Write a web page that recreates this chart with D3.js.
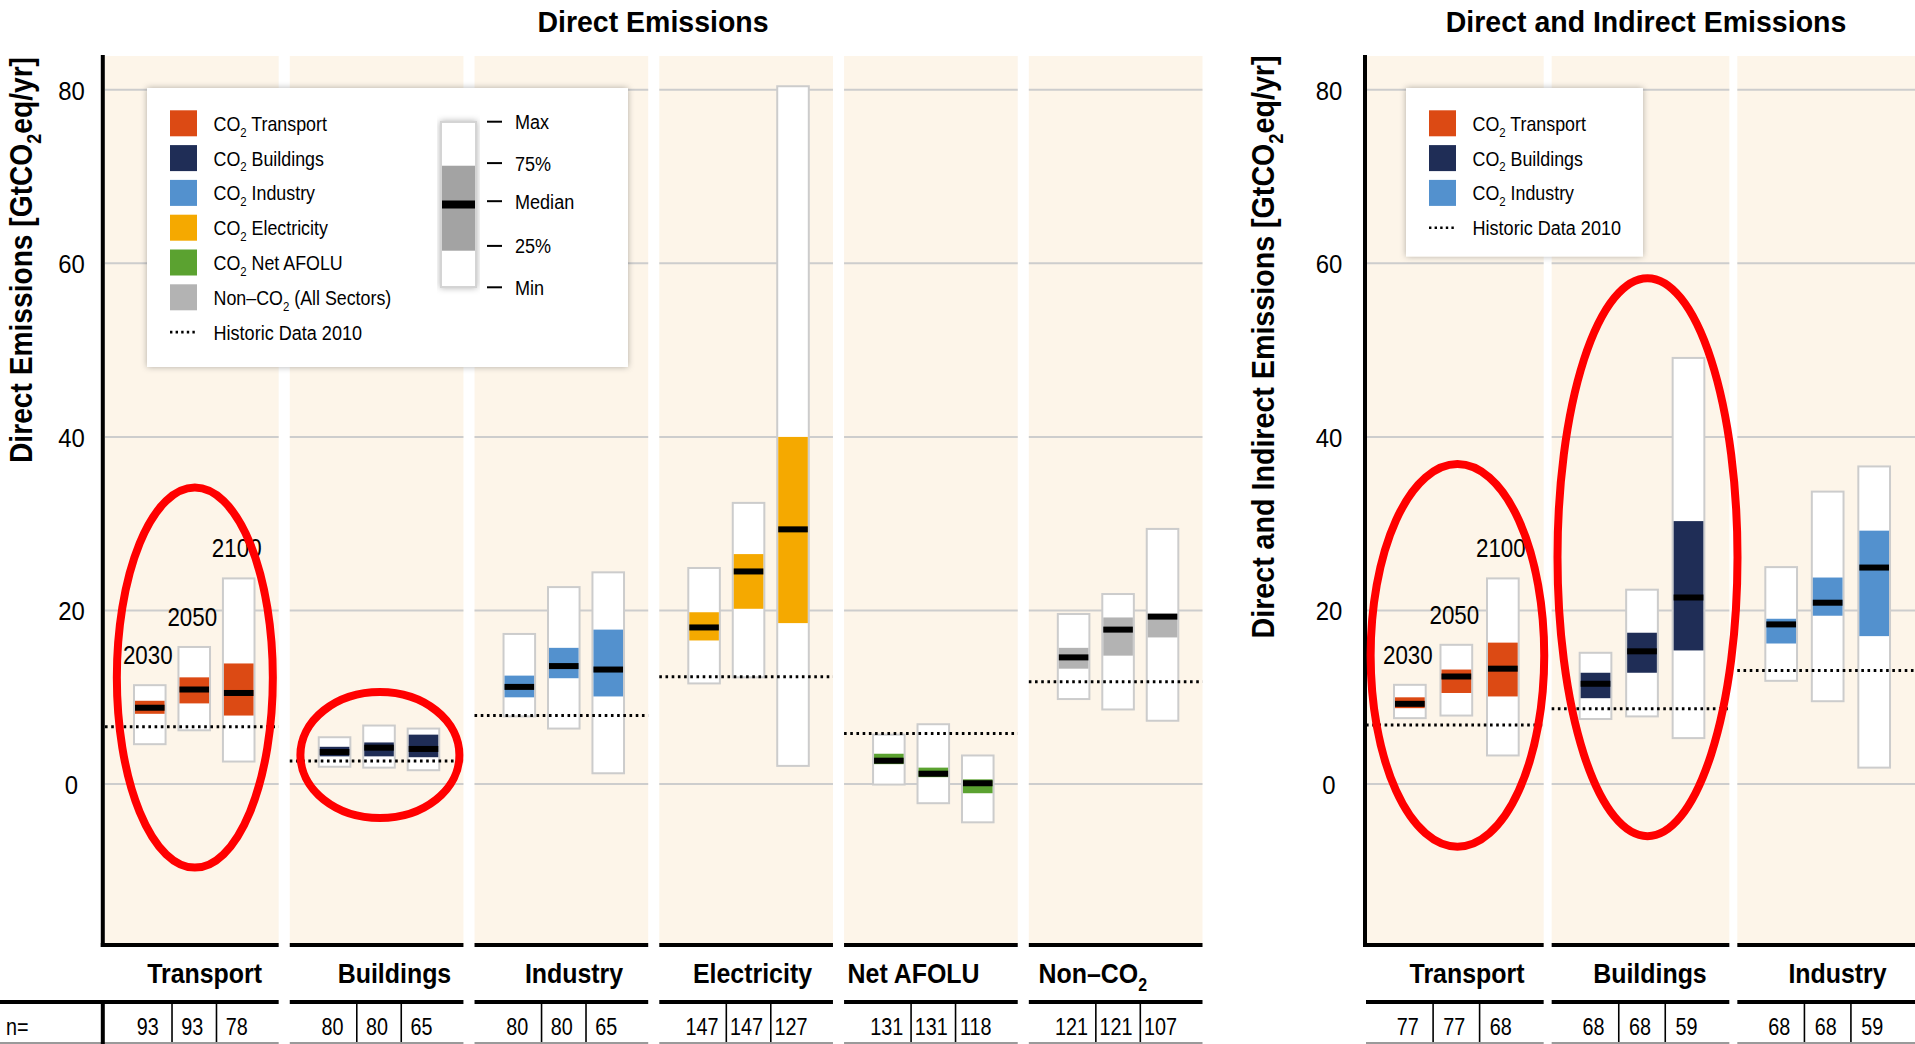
<!DOCTYPE html>
<html>
<head>
<meta charset="utf-8">
<script src="https://cdn.jsdelivr.net/npm/d3@7"></script>
<style>
  html, body { margin: 0; padding: 0; background: #ffffff; }
  svg { display: block; }
</style>
</head>
<body>
<svg id="chart" width="1915" height="1044"></svg>
<script>
// ---------------- DATA ----------------
const years = ["2030", "2050", "2100"];
const yTicks = [0, 20, 40, 60, 80];

// Direct emissions (GtCO2eq/yr)
const directCategories = ["Transport", "Buildings", "Industry", "Electricity", "Net AFOLU", "Non–CO2"];
const directN = [[93, 93, 78], [80, 80, 65], [80, 80, 65], [147, 147, 127], [131, 131, 118], [121, 121, 107]];
const directMin    = [[4.6, 6.2, 2.6], [2.0, 1.9, 1.6], [7.8, 6.4, 1.25], [11.6, 12.3, 2.1], [-0.05, -2.2, -4.4], [9.8, 8.6, 7.3]];
const directQ25    = [[8.1, 9.3, 7.9], [3.2, 3.2, 3.1], [10.0, 12.2, 10.1], [16.55, 20.2, 18.55], [2.3, 0.8, -1.05], [13.3, 14.8, 16.9]];
const directMedian = [[8.8, 10.9, 10.5], [3.7, 4.2, 4.05], [11.2, 13.6, 13.2], [18.05, 24.5, 29.35], [2.7, 1.2, 0.1], [14.6, 17.8, 19.3]];
const directQ75    = [[9.6, 12.3, 13.9], [4.3, 4.8, 5.7], [12.5, 15.7, 17.8], [19.8, 26.5, 40.0], [3.5, 1.9, 0.55], [15.7, 19.2, 19.6]];
const directMax    = [[11.4, 15.8, 23.7], [5.4, 6.75, 6.4], [17.3, 22.7, 24.4], [24.9, 32.4, 80.4], [5.7, 6.9, 3.3], [19.6, 21.9, 29.4]];
const directHistoric = [6.6, 2.67, 7.9, 12.36, 5.82, 11.8];

// Direct and indirect emissions (GtCO2eq/yr)
const indirectCategories = ["Transport", "Buildings", "Industry"];
const indirectN = [[77, 77, 68], [68, 68, 59], [68, 68, 59]];
const indirectMin    = [[7.6, 7.9, 3.3], [7.5, 7.8, 5.3], [11.9, 9.55, 1.9]];
const indirectQ25    = [[8.75, 10.5, 10.1], [9.9, 12.83, 15.4], [16.2, 19.4, 17.05]];
const indirectMedian = [[9.25, 12.4, 13.3], [11.56, 15.3, 21.5], [18.4, 20.9, 24.95]];
const indirectQ75    = [[10.0, 13.2, 16.3], [12.83, 17.44, 30.3], [19.05, 23.8, 29.2]];
const indirectMax    = [[11.44, 16.05, 23.7], [15.13, 22.4, 49.1], [25.0, 33.7, 36.6]];
const indirectHistoric = [6.8, 8.67, 13.1];

// Legend entries
const directLegend = ["CO2 Transport", "CO2 Buildings", "CO2 Industry", "CO2 Electricity", "CO2 Net AFOLU", "Non–CO2 (All Sectors)"];
const indirectLegend = ["CO2 Transport", "CO2 Buildings", "CO2 Industry"];
const historicLabel = "Historic Data 2010";
const boxKeyLabels = ["Max", "75%", "Median", "25%", "Min"];
const boxKeyValues = [1.0, 0.75, 0.52, 0.25, 0.0]; // relative positions in the key box

// ---------------- STYLE ----------------
const FONT = "'Liberation Sans', Arial, 'DejaVu Sans', sans-serif";
const CREAM = "#fdf5e9";
const GRID = "#cdcdcd";
const BOXLINE = "#cccccc";
const directColors = ["#dc4a14", "#1f2d56", "#5391ce", "#f5a900", "#5ba230", "#b3b3b3"];
const indirectColors = ["#dc4a14", "#1f2d56", "#5391ce"];

const svg = d3.select("#chart");
const defs = svg.append("defs");
const sh = defs.append("filter").attr("id", "shadow")
  .attr("x", "-10%").attr("y", "-10%").attr("width", "120%").attr("height", "120%");
sh.append("feDropShadow").attr("dx", 0).attr("dy", 0).attr("stdDeviation", 3)
  .attr("flood-color", "#000").attr("flood-opacity", 0.3);

// shared y scale
const y = d3.scaleLinear().domain([-18.65, 84.0]).range([946, 55]);
const PLOT_TOP = 55, PLOT_BOTTOM = 946;

// text helper with CO2 subscript and horizontal condensing
function label(g, str, x, yy, o) {
  o = o || {};
  const size = o.size || 21;
  const sx = o.textLength ? 1 : (o.sx || 0.86);
  const t = g.append("text")
    .attr("transform", `translate(${x},${yy})` + (o.rotate ? ` rotate(${o.rotate})` : "") + ` scale(${sx},1)`)
    .attr("font-family", FONT)
    .attr("font-size", size)
    .attr("font-weight", o.bold ? "bold" : "normal")
    .attr("text-anchor", o.anchor || "start")
    .attr("fill", o.fill || "#000");
  const shift = size * 0.28;
  let pending = 0;
  String(str).split(/(CO2)/).forEach(p => {
    if (!p) return;
    if (p === "CO2") {
      const a = t.append("tspan").text("CO");
      if (pending) { a.attr("dy", pending); pending = 0; }
      t.append("tspan").attr("font-size", size * 0.64).attr("dy", shift).text("2");
      pending = -shift;
    } else {
      const a = t.append("tspan").text(p);
      if (pending) { a.attr("dy", pending); pending = 0; }
    }
  });
  if (o.textLength) t.attr("textLength", o.textLength).attr("lengthAdjust", "spacingAndGlyphs");
  return t;
}

function drawGroup(cfg) {
  const g = svg.append("g");
  const xp = d3.scaleBand().domain(cfg.categories).range(cfg.panelRange).paddingInner(cfg.panelPad);
  const bw = xp.bandwidth();
  const xi = d3.scaleBand().domain(years).range(cfg.innerRange).paddingInner(cfg.innerPad);
  const boxW = xi.bandwidth();

  // panels
  g.append("g").selectAll("rect").data(cfg.categories).join("rect")
    .attr("x", d => xp(d)).attr("y", PLOT_TOP + 1)
    .attr("width", bw).attr("height", PLOT_BOTTOM - PLOT_TOP - 1)
    .attr("fill", CREAM);

  // gridlines
  const grid = g.append("g");
  cfg.categories.forEach(c => {
    grid.selectAll(null).data(yTicks).join("line")
      .attr("x1", xp(c)).attr("x2", xp(c) + bw)
      .attr("y1", d => y(d)).attr("y2", d => y(d))
      .attr("stroke", GRID).attr("stroke-width", 2);
  });

  // boxes
  const rows = cfg.categories.flatMap((c, i) => years.map((yr, j) => ({
    c, i, j, yr,
    min: cfg.min[i][j], q25: cfg.q25[i][j], med: cfg.median[i][j],
    q75: cfg.q75[i][j], max: cfg.max[i][j], n: cfg.n[i][j]
  })));
  const bx = d => xp(d.c) + xi(d.yr);
  const boxes = g.append("g");
  boxes.selectAll("rect.outer").data(rows).join("rect").attr("class", "outer")
    .attr("x", bx).attr("y", d => y(d.max))
    .attr("width", boxW).attr("height", d => y(d.min) - y(d.max))
    .attr("fill", "#fff").attr("stroke", BOXLINE).attr("stroke-width", 2);
  boxes.selectAll("rect.iqr").data(rows).join("rect").attr("class", "iqr")
    .attr("x", d => bx(d) + 1).attr("y", d => y(d.q75))
    .attr("width", boxW - 2).attr("height", d => y(d.q25) - y(d.q75))
    .attr("fill", d => cfg.colors[d.i]);
  boxes.selectAll("rect.med").data(rows).join("rect").attr("class", "med")
    .attr("x", d => bx(d) + 1).attr("y", d => y(d.med) - 3)
    .attr("width", boxW - 2).attr("height", 6)
    .attr("fill", "#000");

  // historic dotted lines
  g.append("g").selectAll("line").data(cfg.categories).join("line")
    .attr("x1", d => xp(d)).attr("x2", d => xp(d) + bw)
    .attr("y1", (d, i) => y(cfg.historic[i])).attr("y2", (d, i) => y(cfg.historic[i]))
    .attr("stroke", "#000").attr("stroke-width", 3).attr("stroke-dasharray", "2.6,3.6");

  // year labels in first panel
  const first = rows.filter(d => d.i === 0);
  first.forEach(d => {
    label(g, d.yr, bx(d) + boxW / 2 - 2, y(d.max) - 21, { size: 26, sx: 0.86, anchor: "middle" });
  });

  // axis line & bottom lines
  g.append("line").attr("x1", cfg.axisX).attr("x2", cfg.axisX)
    .attr("y1", PLOT_TOP).attr("y2", PLOT_BOTTOM + 1)
    .attr("stroke", "#000").attr("stroke-width", 4);
  g.append("g").selectAll("line").data(cfg.categories).join("line")
    .attr("x1", (d, i) => i === 0 ? cfg.axisX - 2 : xp(d)).attr("x2", d => xp(d) + bw)
    .attr("y1", 945).attr("y2", 945)
    .attr("stroke", "#000").attr("stroke-width", 4);

  // y axis labels
  const ax = g.append("g").attr("transform", `translate(${cfg.axisX},0)`)
    .call(d3.axisLeft(y).tickValues(yTicks).tickSize(0).tickFormat(d3.format("d")));
  ax.select(".domain").remove();
  ax.selectAll("text")
    .attr("x", 0).attr("dy", "0.36em").attr("text-anchor", "middle")
    .attr("transform", `translate(${cfg.tickDx},0) scale(0.92,1)`)
    .attr("font-family", FONT).attr("font-size", 26).attr("fill", "#000");

  // titles
  label(g, cfg.title, cfg.titleX, 32, { size: 30, bold: true, sx: 0.95, anchor: "middle" });
  label(g, cfg.yTitle, cfg.yTitleX, cfg.yTitleY, { size: 32, bold: true, rotate: -90, anchor: "middle", textLength: cfg.yTitleLen });

  // category labels
  cfg.categories.forEach((c, i) => {
    label(g, c, xp(c) + cfg.labelDx[i], 983, { size: 28, bold: true, sx: 0.89, anchor: "middle" });
  });

  // n= table
  const tbl = g.append("g");
  tbl.selectAll("line.top").data(cfg.categories).join("line").attr("class", "top")
    .attr("x1", (d, i) => (i === 0 && cfg.tableStart !== null) ? cfg.tableStart : xp(d))
    .attr("x2", d => xp(d) + bw).attr("y1", 1002).attr("y2", 1002)
    .attr("stroke", "#000").attr("stroke-width", 4);
  tbl.selectAll("line.bot").data(cfg.categories).join("line").attr("class", "bot")
    .attr("x1", (d, i) => (i === 0 && cfg.tableStart !== null) ? cfg.tableStart : xp(d))
    .attr("x2", d => xp(d) + bw).attr("y1", 1043).attr("y2", 1043)
    .attr("stroke", "#9a9a9a").attr("stroke-width", 2);
  const seps = rows.filter(d => d.j > 0);
  tbl.selectAll("line.sep").data(seps).join("line").attr("class", "sep")
    .attr("x1", d => bx(d) - xi.step() * xi.paddingInner() / 2)
    .attr("x2", d => bx(d) - xi.step() * xi.paddingInner() / 2)
    .attr("y1", 1004).attr("y2", 1042)
    .attr("stroke", "#000").attr("stroke-width", 1.6);
  rows.forEach(d => {
    label(tbl, d.n, bx(d) + boxW / 2 - 2, 1035, { size: 23, sx: 0.86, anchor: "middle" });
  });
  if (cfg.tableStart !== null) {
    tbl.append("line").attr("x1", cfg.axisX).attr("x2", cfg.axisX)
      .attr("y1", 1000).attr("y2", 1044).attr("stroke", "#000").attr("stroke-width", 4);
    label(tbl, "n=", 6, 1035, { size: 23, sx: 0.86 });
  }

  return { g, xp, bw };
}

const left = drawGroup({
  categories: directCategories, n: directN,
  min: directMin, q25: directQ25, median: directMedian, q75: directQ75, max: directMax,
  historic: directHistoric, colors: directColors,
  panelRange: [105, 1202.5], panelPad: 0.06,
  innerRange: [29, 149.5], innerPad: 0.29,
  axisX: 102.8, tickDx: -31.3,
  title: "Direct Emissions", titleX: 653,
  yTitle: "Direct Emissions [GtCO2eq/yr]", yTitleX: 32, yTitleY: 260, yTitleLen: 406,
  labelDx: [99.6, 104.7, 99.5, 93.2, 69.5, 64],
  tableStart: 0
});

const right = drawGroup({
  categories: indirectCategories, n: indirectN,
  min: indirectMin, q25: indirectQ25, median: indirectMedian, q75: indirectQ75, max: indirectMax,
  historic: indirectHistoric, colors: indirectColors,
  panelRange: [1366, 1915], panelPad: 0.043,
  innerRange: [28, 152.7], innerPad: 0.318,
  axisX: 1365, tickDx: -36,
  title: "Direct and Indirect Emissions", titleX: 1646,
  yTitle: "Direct and Indirect Emissions [GtCO2eq/yr]", yTitleX: 1274, yTitleY: 347, yTitleLen: 583,
  labelDx: [101, 98.3, 100.2],
  tableStart: null
});

// ---------------- LEGENDS ----------------
function legend(x0, y0, w, h, items, colors, withKey) {
  const g = svg.append("g");
  g.append("rect").attr("x", x0).attr("y", y0).attr("width", w).attr("height", h)
    .attr("fill", "#fff").attr("filter", "url(#shadow)");
  const rowY = i => y0 + 35.3 + i * 34.8;
  items.forEach((t, i) => {
    g.append("rect").attr("x", x0 + 23).attr("y", rowY(i) - 13).attr("width", 27).attr("height", 26)
      .attr("fill", colors[i]);
    label(g, t, x0 + 66.5, rowY(i) + 7.5, { size: 21, sx: 0.85 });
  });
  const hi = items.length;
  g.append("line").attr("x1", x0 + 23).attr("x2", x0 + 51)
    .attr("y1", rowY(hi)).attr("y2", rowY(hi))
    .attr("stroke", "#000").attr("stroke-width", 2.6).attr("stroke-dasharray", "2.4,3.2");
  label(g, historicLabel, x0 + 66.5, rowY(hi) + 7.5, { size: 21, sx: 0.86 });

  if (withKey) {
    const kx = x0 + 294, kw = 35, kTop = y0 + 34, kBot = y0 + 199;
    const ky = d3.scaleLinear().domain([0, 1]).range([kBot, kTop]);
    g.append("rect").attr("x", kx).attr("y", kTop).attr("width", kw).attr("height", kBot - kTop)
      .attr("fill", "#fff").attr("stroke", "#d4d4d4").attr("stroke-width", 2)
      .attr("filter", "url(#shadow)");
    g.append("rect").attr("x", kx + 1).attr("y", ky(0.735)).attr("width", kw - 2)
      .attr("height", ky(0.22) - ky(0.735)).attr("fill", "#a3a3a3");
    g.append("rect").attr("x", kx + 1).attr("y", ky(0.5) - 4).attr("width", kw - 2)
      .attr("height", 8).attr("fill", "#000");
    const labelY = d3.scaleLinear().domain([0, 1]).range([y0 + 199.3, y0 + 33.7]);
    boxKeyLabels.forEach((t, i) => {
      const yy = labelY(boxKeyValues[i]);
      g.append("line").attr("x1", kx + 46).attr("x2", kx + 61).attr("y1", yy).attr("y2", yy)
        .attr("stroke", "#000").attr("stroke-width", 2);
      label(g, t, kx + 74, yy + 7.5, { size: 21, sx: 0.86 });
    });
  }
}
legend(147, 88, 481, 279, directLegend, directColors, true);
legend(1406, 88, 237, 168.5, indirectLegend, indirectColors, false);

// ---------------- ANNOTATION ELLIPSES ----------------
const ellipses = [
  { grp: left,  cat: "Transport", dx: 3,   value: 12.27, rx: 78,   ry: 190 },
  { grp: left,  cat: "Buildings", dx: 3.3, value: 3.35,  rx: 79.5, ry: 63 },
  { grp: right, cat: "Transport", dx: 2.6, value: 14.83, rx: 86.8, ry: 191.3 },
  { grp: right, cat: "Buildings", dx: 7,   value: 26.15, rx: 90,   ry: 279 }
];
svg.append("g").selectAll("ellipse").data(ellipses).join("ellipse")
  .attr("cx", d => d.grp.xp(d.cat) + d.grp.bw / 2 + d.dx)
  .attr("cy", d => y(d.value))
  .attr("rx", d => d.rx).attr("ry", d => d.ry)
  .attr("fill", "none").attr("stroke", "#ff0000").attr("stroke-width", 8);
</script>
</body>
</html>
